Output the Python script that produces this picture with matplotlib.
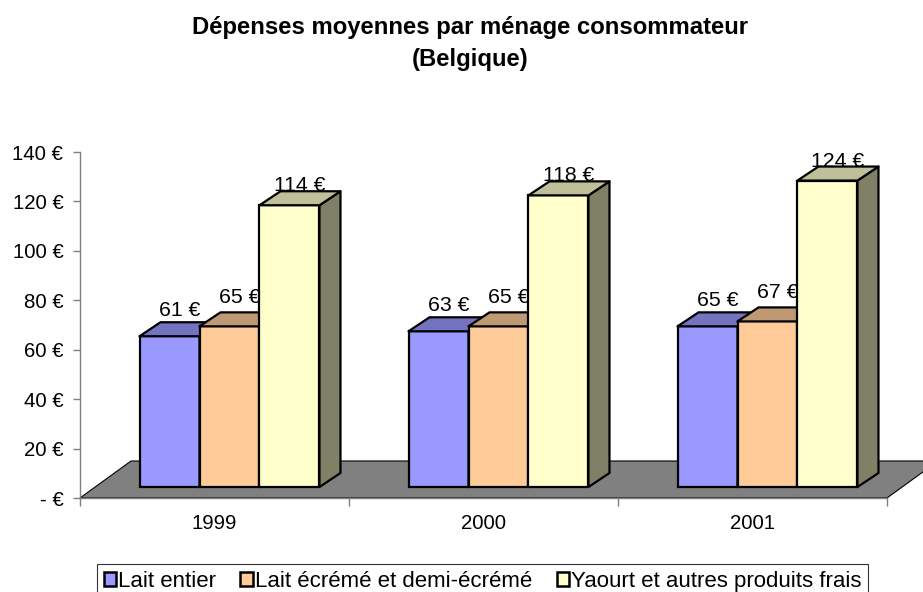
import numpy as np
import matplotlib
matplotlib.use("Agg")
import matplotlib.pyplot as plt
from matplotlib.patches import Polygon, Patch
from matplotlib.ticker import FixedLocator, FuncFormatter

plt.rcParams['font.family'] = ['Liberation Sans', 'DejaVu Sans']

years = ["1999", "2000", "2001"]
series_names = ["Lait entier", "Lait écrémé et demi-écrémé", "Yaourt et autres produits frais"]
lait_entier = [61, 63, 65]
lait_ecreme = [65, 65, 67]
yaourt = [114, 118, 124]
values = [lait_entier, lait_ecreme, yaourt]

front_colors = ["#9999FF", "#FFCC99", "#FFFFCC"]
top_colors = ["#7373BF", "#BF9973", "#BFBF99"]
side_colors = ["#4D4D80", "#806650", "#808066"]

W, H = 923, 592
fig = plt.figure(figsize=(W / 100, H / 100), dpi=100)
ax = fig.add_axes([80 / W, 94 / H, 807 / W, 346 / H])
ax.set_xlim(0, 3)
ax.set_ylim(0, 140)

# pixel -> data unit conversion for the oblique "3D" offsets
px_x = 1 / (807 / 3)
px_y = 140 / 346
floor_dx, floor_dy = 51 * px_x, 37 * px_y
front_dx, front_dy = 15 * px_x, 11 * px_y
back_dx, back_dy = 36 * px_x, 25 * px_y
bar_w = 0.223
label_gap = [6, 9, 0]

# floor
floor = Polygon([(0, 0), (3, 0), (3 + floor_dx, floor_dy), (floor_dx, floor_dy)],
                closed=True, facecolor="#808080", edgecolor="black", lw=0.8,
                zorder=1, clip_on=False)
ax.add_patch(floor)

centers = np.arange(len(years)) + 0.5
for j, vals in enumerate(values):
    xs = centers + (j - 1) * bar_w
    zo = 3 + j
    ax.bar(xs + front_dx, vals, width=bar_w, bottom=front_dy, color=front_colors[j],
           edgecolor="black", linewidth=1.6, zorder=zo, clip_on=False)
    for x, v in zip(xs, vals):
        x0 = x - bar_w / 2 + front_dx
        x1 = x + bar_w / 2 + front_dx
        yt = v + front_dy
        ddx, ddy = back_dx - front_dx, back_dy - front_dy
        top = Polygon([(x0, yt), (x1, yt), (x1 + ddx, yt + ddy), (x0 + ddx, yt + ddy)],
                      closed=True, facecolor=top_colors[j], edgecolor="black", lw=1.6,
                      zorder=zo, clip_on=False, joinstyle="round")
        side = Polygon([(x1, front_dy), (x1, yt), (x1 + ddx, yt + ddy), (x1 + ddx, front_dy + ddy)],
                       closed=True, facecolor=side_colors[j], edgecolor="black", lw=1.6,
                       zorder=zo, clip_on=False, joinstyle="round")
        ax.add_patch(side)
        ax.add_patch(top)
        ax.text(x + (front_dx + back_dx) / 2, v + back_dy + label_gap[j] * px_y, f"{v} €",
                ha="center", va="baseline", fontsize=15.3, zorder=2, clip_on=False)

# axes styling
for s in ["top", "right"]:
    ax.spines[s].set_visible(False)
for s in ["left", "bottom"]:
    ax.spines[s].set_color("#808080")
    ax.spines[s].set_linewidth(1)

ax.yaxis.set_major_locator(FixedLocator(np.arange(0, 141, 20)))
ax.yaxis.set_major_formatter(FuncFormatter(lambda v, p: "- €" if v == 0 else f"{v:.0f} €"))
ax.tick_params(axis="y", length=5, width=1, color="#808080", pad=7, labelsize=14.7)

ax.xaxis.set_major_locator(FixedLocator([0, 1, 2, 3]))
ax.xaxis.set_major_formatter(FuncFormatter(lambda v, p: ""))
ax.xaxis.set_minor_locator(FixedLocator(centers))
ax.xaxis.set_minor_formatter(FuncFormatter(lambda v, p: years[int(v)]))
ax.tick_params(axis="x", which="major", length=6, width=1, color="#808080")
ax.tick_params(axis="x", which="minor", length=0, pad=11.5, labelsize=14.7)

fig.text(470 / W, 1 - 34 / H, "Dépenses moyennes par ménage consommateur",
         ha="center", va="baseline", fontsize=17.2, fontweight="bold")
fig.text(470 / W, 1 - 66 / H, "(Belgique)",
         ha="center", va="baseline", fontsize=17.2, fontweight="bold")

handles = [Patch(facecolor=c, edgecolor="black", lw=1.8) for c in front_colors]
leg = fig.legend(handles, series_names, loc="upper center", bbox_to_anchor=(482.5 / W, 28 / H),
                 ncol=3, fontsize=16, frameon=True, fancybox=False, borderpad=0.3,
                 handlelength=0.55, handleheight=0.55, handletextpad=0.1, columnspacing=1.1,
                 borderaxespad=0)
leg.get_frame().set_edgecolor("black")
leg.get_frame().set_linewidth(0.8)

fig.savefig("out.png", dpi=100)
